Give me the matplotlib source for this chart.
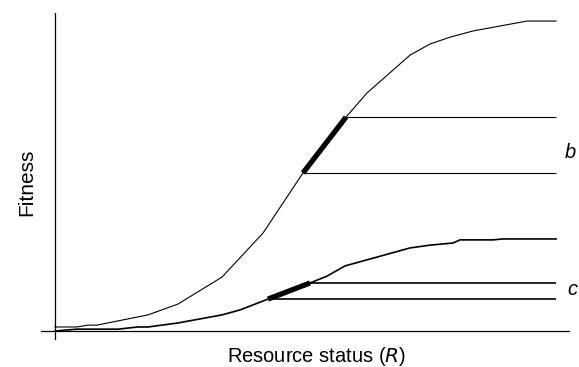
import matplotlib.pyplot as plt
import numpy as np

plt.rcParams['font.family'] = ['Liberation Sans', 'DejaVu Sans']

# upper curve (b): resource status vs fitness
r_upper = [0, 4.4, 6.6, 8.4, 18.6, 24.6, 33.4, 41.6, 49.6, 58.2, 62.4, 71, 75, 79, 83.6, 94.4, 100.2]
f_upper = [1.3, 1.3, 1.9, 1.9, 5.2, 8.7, 17.4, 31.6, 51.0, 69.0, 76.8, 89.0, 92.6, 94.8, 96.8, 100, 100]
# lower curve (c)
r_lower = [0, 4.4, 12.6, 16.6, 18.6, 24.6, 33.4, 37, 42.6, 51, 54.4, 58, 71, 75, 79.6, 81, 87.6, 89.6, 100.2]
f_lower = [0, 0.6, 0.6, 1.3, 1.3, 2.6, 5.2, 6.8, 10.3, 15.5, 17.7, 21, 26.8, 27.7, 28.4, 29.4, 29.4, 29.7, 29.7]

# highlighted segments (index ranges into the curves)
b_seg = (8, 9)
c_seg = (8, 9)
r_end = 100.2

fig = plt.figure(figsize=(5.79, 3.67), dpi=100)
ax = fig.add_axes([41 / 579, 27 / 367, 529 / 579, 327 / 367])
ax.set_xlim(-2.8, 103)
ax.set_ylim(-2.9, 102.6)
for s in ax.spines.values():
    s.set_visible(False)
ax.set_xticks([])
ax.set_yticks([])

ax.axvline(0, color='black', lw=0.9)
ax.axhline(0, color='black', lw=0.9)

ax.plot(r_upper, f_upper, color='black', lw=0.8)
ax.plot(r_lower, f_lower, color='black', lw=1.2)

i, j = b_seg
ax.plot(r_upper[i:j + 1], f_upper[i:j + 1], color='black', lw=3.8, solid_capstyle='butt')
ax.hlines([f_upper[i], f_upper[j]], [r_upper[i], r_upper[j]], r_end, color='black', lw=0.8)

i, j = c_seg
ax.plot(r_lower[i:j + 1], f_lower[i:j + 1], color='black', lw=3.8, solid_capstyle='butt')
ax.hlines([f_lower[i], f_lower[j]], [r_lower[i], r_lower[j]], r_end, color='black', lw=1.2)

# labels (pixel positions converted to figure fractions)
fig.text(565 / 579, 1 - 158 / 367, 'b', fontsize=14.5, style='italic', ha='left', va='baseline')
fig.text(567 / 579, 1 - 295 / 367, 'c', fontsize=14.5, style='italic', ha='left', va='baseline')

fig.text(32 / 579, 1 - 182 / 367, 'Fitness', rotation=90, rotation_mode='anchor',
         fontsize=15, ha='center', va='baseline')
fig.text(317 / 579, 1 - 362 / 367, 'Resource status ($\\it{R}$)', fontsize=14.5,
         ha='center', va='baseline')

fig.savefig('out.png', dpi=100)
